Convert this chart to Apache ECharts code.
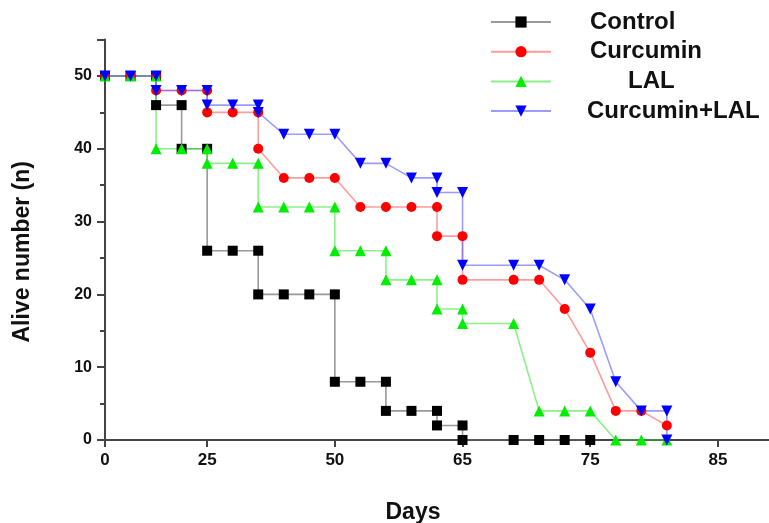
<!DOCTYPE html>
<html>
<head>
<meta charset="utf-8">
<script src="https://cdn.jsdelivr.net/npm/echarts@6/dist/echarts.min.js"></script>
<style>
html,body{margin:0;padding:0;background:#fff;}
#c{width:769px;height:523px;}
</style>
</head>
<body>
<div id="c"></div>
<script>
// x positions are time-point indices; tick labels as printed on the original axis
const tickPositions = [0, 4, 9, 14, 19, 24];
const tickLabels = ['0', '25', '50', '65', '75', '85'];
const seriesNames = ['Control', 'Curcumin', 'LAL', 'Curcumin+LAL'];

const controlData = [[0,50],[1,50],[2,50],[2,46],[3,46],[3,40],[4,40],[4,26],[5,26],[6,26],[6,20],[7,20],[8,20],[9,20],[9,8],[10,8],[11,8],[11,4],[12,4],[13,4],[13,2],[14,2],[14,0],[16,0],[17,0],[18,0],[19,0]];
const curcuminData = [[0,50],[1,50],[2,50],[2,48],[3,48],[4,48],[4,45],[5,45],[6,45],[6,40],[7,36],[8,36],[9,36],[10,32],[11,32],[12,32],[13,32],[13,28],[14,28],[14,22],[16,22],[17,22],[18,18],[19,12],[20,4],[21,4],[22,2]];
const lalData = [[0,50],[1,50],[2,50],[2,40],[3,40],[4,40],[4,38],[5,38],[6,38],[6,32],[7,32],[8,32],[9,32],[9,26],[10,26],[11,26],[11,22],[12,22],[13,22],[13,18],[14,18],[14,16],[16,16],[17,4],[18,4],[19,4],[20,0],[21,0],[22,0]];
const comboData = [[0,50],[1,50],[2,50],[2,48],[3,48],[4,48],[4,46],[5,46],[6,46],[6,45],[7,42],[8,42],[9,42],[10,38],[11,38],[12,36],[13,36],[13,34],[14,34],[14,24],[16,24],[17,24],[18,22],[19,18],[20,8],[21,4],[22,4],[22,0]];

const FONT = "'Liberation Sans', Arial, sans-serif";
const chart = echarts.init(document.getElementById('c'), null, {renderer: 'canvas'});

function mk(name, data, symbol, rotate, markerColor, lineColor, size) {
  return {
    name: name, type: 'line', data: data,
    symbol: symbol, symbolRotate: rotate, symbolSize: size,
    itemStyle: {color: markerColor},
    lineStyle: {color: lineColor, width: 1.6},
    emphasis: {disabled: true},
    animation: false
  };
}

const legendPad = {Control: 34, Curcumin: 34, LAL: 72, 'Curcumin+LAL': 31};

chart.setOption({
  backgroundColor: '#fff',
  animation: false,
  grid: {left: 105, right: 0, top: 39.6, bottom: 83, containLabel: false, outerBoundsMode: 'none'},
  legend: {
    data: seriesNames,
    orient: 'vertical',
    left: 490, top: 10, padding: 0,
    itemWidth: 60, itemHeight: 14, itemGap: 5.7,
    textStyle: {fontFamily: FONT, fontSize: 24, fontWeight: 'bold', color: '#111', lineHeight: 24,
      rich: {
        p0: {padding: [0,0,0,legendPad['Control']]},
        p1: {padding: [0,0,0,legendPad['Curcumin']]},
        p2: {padding: [0,0,0,legendPad['LAL']]},
        p3: {padding: [0,0,0,legendPad['Curcumin+LAL']]}
      }
    },
    formatter: function (name) { return '{p' + seriesNames.indexOf(name) + '|' + name + '}'; }
  },
  xAxis: {
    type: 'value', min: 0, max: 26,
    name: 'Days', nameLocation: 'middle', nameGap: 61,
    nameTextStyle: {fontFamily: FONT, fontSize: 23, fontWeight: 'bold', color: '#111', padding: [0, 48, 0, 0]},
    axisLine: {show: true, onZero: false, lineStyle: {color: '#444', width: 2}},
    axisTick: {show: true, length: 7, customValues: tickPositions, lineStyle: {color: '#444', width: 2}},
    axisLabel: {customValues: tickPositions, margin: 12, fontFamily: FONT, fontSize: 17, fontWeight: 'bold', color: '#111',
      formatter: function (v) { const i = tickPositions.indexOf(v); return i >= 0 ? tickLabels[i] : ''; }},
    splitLine: {show: false}
  },
  yAxis: {
    type: 'value', min: 0, max: 55, interval: 10,
    name: 'Alive number (n)', nameLocation: 'middle', nameGap: 71,
    nameTextStyle: {fontFamily: FONT, fontSize: 23, fontWeight: 'bold', color: '#111', padding: [0, 24, 0, 0]},
    axisLine: {show: true, lineStyle: {color: '#444', width: 2}},
    axisTick: {show: true, length: 8, lineStyle: {color: '#444', width: 2}},
    minorTick: {show: true, splitNumber: 2, length: 5, lineStyle: {color: '#444', width: 2}},
    axisLabel: {margin: 13, fontFamily: FONT, fontSize: 16, fontWeight: 'bold', color: '#111',
      formatter: function (v) { return v % 10 === 0 ? String(v) : ''; }},
    splitLine: {show: false}
  },
  series: [
    mk('Control', controlData, 'rect', 0, '#000', 'rgba(110,110,110,0.7)', 10),
    mk('Curcumin', curcuminData, 'circle', 0, '#ff0000', 'rgba(255,90,90,0.6)', 10),
    mk('LAL', lalData, 'triangle', 0, '#00ee00', 'rgba(60,230,60,0.6)', 11),
    mk('Curcumin+LAL', comboData, 'triangle', 180, '#0000ff', 'rgba(90,90,255,0.6)', 11)
  ]
});
</script>
</body>
</html>
